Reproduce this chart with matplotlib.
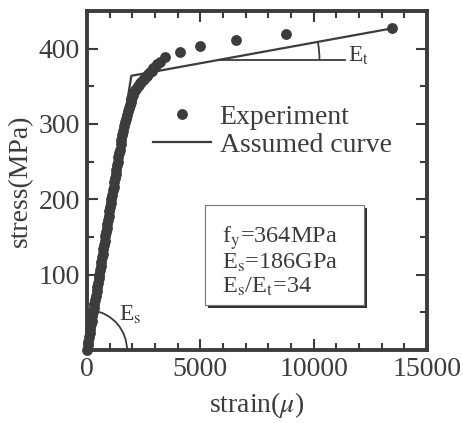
import numpy as np
import matplotlib
matplotlib.use('Agg')
import matplotlib.pyplot as plt
from matplotlib.patches import Arc, Rectangle
from matplotlib.transforms import ScaledTranslation
from matplotlib.ticker import MultipleLocator

plt.rcParams['font.family'] = ['Liberation Serif', 'DejaVu Serif']
plt.rcParams['mathtext.fontset'] = 'stix'

# experiment: strain (micro), stress (MPa)
exp_strain = [0, 30, 60, 90, 120, 150, 180, 210, 240, 270, 300, 330, 360, 390,
              420, 450, 480, 510, 540, 570, 600, 630, 660, 690, 720, 750, 780,
              810, 840, 870, 900, 930, 960, 990, 1020, 1050, 1080, 1110, 1140,
              1170, 1200, 1230, 1260, 1290, 1320, 1350, 1380, 1410, 1440,
              1480, 1520, 1560, 1600, 1640, 1680, 1720, 1760, 1800, 1840, 1880,
              1920, 1960, 2000, 2040, 2080, 2130, 2180, 2230, 2280, 2330, 2390,
              2450, 2510, 2570, 2640, 2710, 2780, 2850, 2930, 3010, 3100, 3200,
              3430, 4100, 5000, 6560, 8800, 13440]
exp_stress = [0, 6, 11, 17, 22, 28, 34, 39, 45, 50, 56, 61, 67, 72,
              78, 84, 89, 95, 100, 106, 112, 117, 123, 128, 134, 140, 145,
              151, 156, 162, 167, 173, 178, 184, 190, 195, 201, 206, 212,
              217, 223, 228, 234, 239, 245, 250, 256, 261, 266,
              273, 279, 285, 291, 297, 302, 307, 312, 317, 321, 325,
              329, 333, 336, 339, 342, 345, 347, 350, 352, 354, 356,
              358, 360, 362, 364, 367, 369, 371, 374, 376, 379, 382,
              389, 396, 403, 411, 420, 428]

# bilinear assumed curve
assumed_strain = [0, 1957, 13470]
assumed_stress = [0, 364, 427]

box_lines = [r'f$_\mathrm{y}$=364MPa', r'E$_\mathrm{s}$=186GPa', r'E$_\mathrm{s}$/E$_\mathrm{t}$=34']

col = '#3c3c3c'

fig = plt.figure(figsize=(4.64, 4.23), dpi=100)
ax = fig.add_axes([87/464, 1 - 350/423, 340/464, 339/423])

ax.plot(exp_strain, exp_stress, 'o', color=col, ms=7.8, mec='none',
        label='Experiment', clip_on=False, zorder=3)
ax.plot(assumed_strain, assumed_stress, '-', color=col, lw=1.6,
        label='Assumed curve', zorder=4)

ax.set_xlim(0, 15000)
ax.set_ylim(0, 450)
ax.xaxis.set_major_locator(MultipleLocator(5000))
ax.xaxis.set_minor_locator(MultipleLocator(1000))
ax.yaxis.set_minor_locator(MultipleLocator(50))
ax.set_yticks([100, 200, 300, 400])
ax.tick_params(which='both', direction='in', top=True, right=True, color=col,
               width=1.5, labelsize=20, labelcolor=col, pad=5)
ax.tick_params(which='major', length=8)
ax.tick_params(which='minor', length=5)
for s in ax.spines.values():
    s.set_linewidth(2.8)
    s.set_color(col)

ax.set_xlabel(r'strain($\mu$)', fontsize=20, color=col, labelpad=6)
ax.set_ylabel('stress(MPa)', fontsize=20, color=col, labelpad=4)

ax.legend(loc='upper left', bbox_to_anchor=(0.153, 0.765), frameon=False,
          fontsize=20, handlelength=2.1, handletextpad=0.3,
          labelspacing=0.1, borderpad=0, labelcolor=col)

# text box with shadow
bx, by, bw, bh = 5200, 60, 7000, 132
shadow = Rectangle((bx, by), bw, bh, facecolor='#333333', edgecolor='none', zorder=5,
                   transform=ax.transData + ScaledTranslation(3/100, -3/100, fig.dpi_scale_trans))
ax.add_patch(shadow)
ax.add_patch(Rectangle((bx, by), bw, bh, facecolor='white', edgecolor='#777777',
                       lw=0.8, zorder=6))
for i, t in enumerate(box_lines):
    ax.text(5950, 148 - i * 32, t, fontsize=17.5, color=col, va='center', zorder=7)

fig.canvas.draw()


def disp(x, y):
    return ax.transData.transform((x, y))


def angle_arc(x0, y0, x1, y1, r_px, theta0=0):
    p0, p1 = disp(x0, y0), disp(x1, y1)
    ang = np.degrees(np.arctan2(p1[1] - p0[1], p1[0] - p0[0]))
    tr = fig.dpi_scale_trans + ScaledTranslation(x0, y0, ax.transData)
    ax.add_patch(Arc((0, 0), 2 * r_px / 100, 2 * r_px / 100, theta1=theta0,
                     theta2=ang, transform=tr, color=col, lw=1.3, zorder=4))


# Es angle at origin
angle_arc(0, 0, assumed_strain[1], assumed_stress[1], 40)
ax.text(1900, 46, r'E$_\mathrm{s}$', fontsize=17, color=col, ha='center', va='center')

# Et angle on plastic branch
x_et = 5800
y_et = np.interp(x_et, assumed_strain, assumed_stress)
ax.plot([x_et, 11400], [y_et, y_et], color=col, lw=1.3)
angle_arc(x_et, y_et, assumed_strain[2], assumed_stress[2], 101)
ax.text(11500, y_et + 5, r'E$_\mathrm{t}$', fontsize=17, color=col, ha='left', va='center')

fig.savefig('out.png', dpi=100)
